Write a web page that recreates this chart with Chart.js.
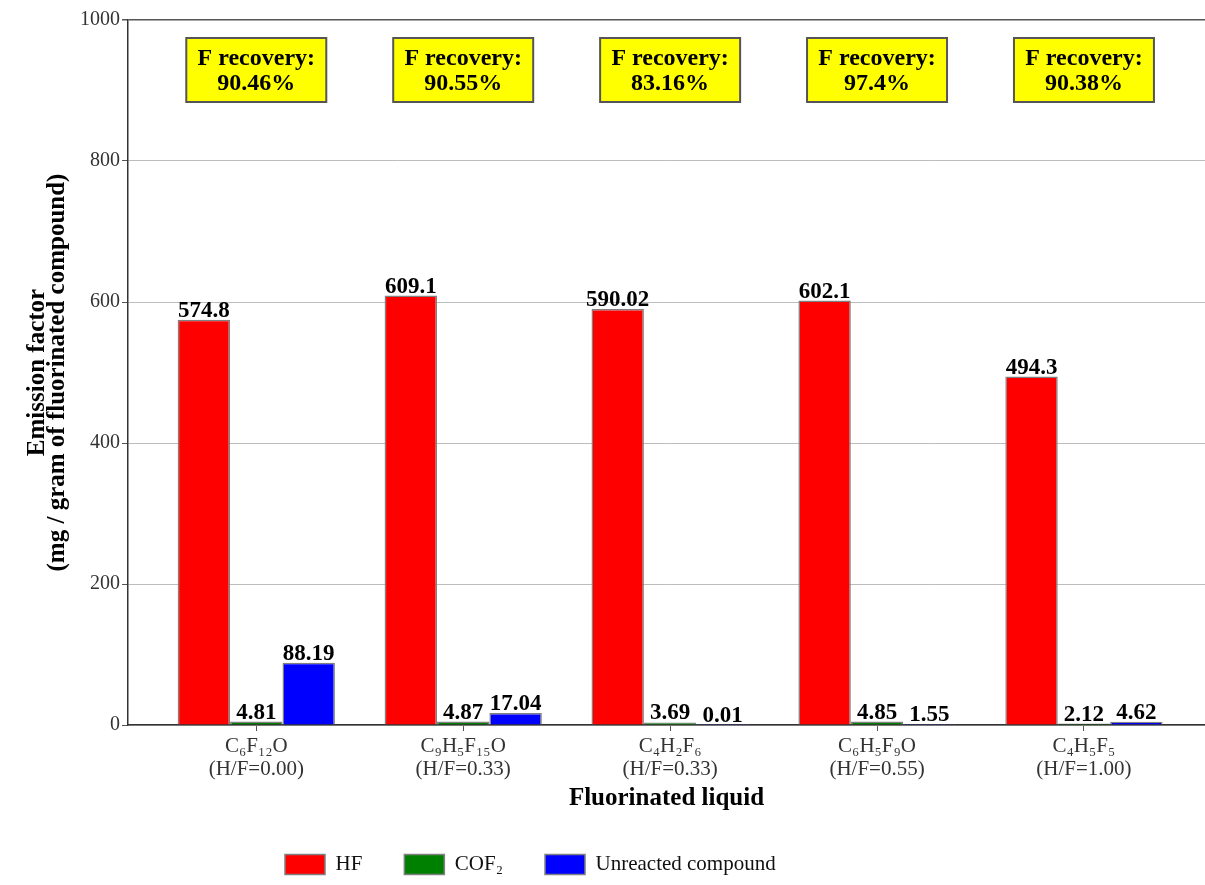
<!DOCTYPE html>
<html>
<head>
<meta charset="utf-8">
<script src="https://cdn.jsdelivr.net/npm/chart.js@4/dist/chart.umd.min.js"></script>
<style>
  body { margin: 0; background: #fff; overflow: hidden; }
  #wrap { width: 1205px; height: 885px; }
</style>
</head>
<body>
<div id="wrap"><canvas id="chart"></canvas></div>
<script>
const formulas = ["C₆F₁₂O", "C₉H₅F₁₅O", "C₄H₂F₆", "C₆H₅F₉O", "C₄H₅F₅"];
const ratios = ["(H/F=0.00)", "(H/F=0.33)", "(H/F=0.33)", "(H/F=0.55)", "(H/F=1.00)"];
const hfValues = [574.8, 609.1, 590.02, 602.1, 494.3];
const cof2Values = [4.81, 4.87, 3.69, 4.85, 2.12];
const unreactedValues = [88.19, 17.04, 0.01, 1.55, 4.62];
const recovery = [90.46, 90.55, 83.16, 97.4, 90.38];
const yTicks = [0, 200, 400, 600, 800, 1000];

const serif = "'Liberation Serif', 'Times New Roman', serif";

function toPoints(values) {
  return values.map((v, i) => ({ x: i, y: v }));
}

const valueLabels = {
  id: "valueLabels",
  afterDatasetsDraw(chart) {
    const ctx = chart.ctx;
    ctx.save();
    ctx.font = "bold 23px " + serif;
    ctx.fillStyle = "#000";
    ctx.textAlign = "center";
    ctx.textBaseline = "alphabetic";
    chart.data.datasets.forEach((ds, i) => {
      chart.getDatasetMeta(i).data.forEach((bar, j) => {
        ctx.fillText(String(ds.data[j].y), bar.x, bar.y - 3);
      });
    });
    ctx.restore();
  }
};

const recoveryBoxes = {
  id: "recoveryBoxes",
  afterDraw(chart) {
    const ctx = chart.ctx;
    const x = chart.scales.x;
    ctx.save();
    recovery.forEach((r, i) => {
      const cx = x.getPixelForValue(i);
      ctx.fillStyle = "#ffff00";
      ctx.fillRect(cx - 70, 38, 140, 64);
      ctx.strokeStyle = "#555";
      ctx.lineWidth = 2;
      ctx.strokeRect(cx - 70, 38, 140, 64);
      ctx.fillStyle = "#000";
      ctx.font = "bold 24px " + serif;
      ctx.textAlign = "center";
      ctx.textBaseline = "middle";
      ctx.fillText("F recovery:", cx, 59);
      ctx.fillText(r + "%", cx, 84);
    });
    ctx.restore();
  }
};

const legendPlace = {
  id: "legendPlace",
  afterLayout(chart) {
    const lg = chart.legend;
    const pad = lg.options.labels.padding;
    const w = lg.right - lg.left;
    lg.left = 285 - pad;
    lg.right = lg.left + w;
    const h = lg.bottom - lg.top;
    lg.top = 866 - pad - 12;
    lg.bottom = lg.top + h;
  }
};

new Chart(document.getElementById("chart"), {
  type: "bar",
  data: {
    datasets: [
      {
        label: "HF",
        data: toPoints(hfValues),
        backgroundColor: "#ff0000",
        borderColor: "#808080",
        borderWidth: 1.5
      },
      {
        label: "COF₂",
        data: toPoints(cof2Values),
        backgroundColor: "#008000",
        borderColor: "#808080",
        borderWidth: 1.5
      },
      {
        label: "Unreacted compound",
        data: toPoints(unreactedValues),
        backgroundColor: "#0000ff",
        borderColor: "#808080",
        borderWidth: 1.5
      }
    ]
  },
  options: {
    responsive: true,
    maintainAspectRatio: false,
    animation: false,
    layout: { padding: { top: 20, left: 0, right: 0, bottom: 0 } },
    datasets: {
      bar: { categoryPercentage: 0.76, barPercentage: 1.0 }
    },
    scales: {
      x: {
        type: "linear",
        offset: false,
        min: -0.62,
        max: 4.585,
        afterFit: (scale) => { scale.height = 87; },
        afterBuildTicks: (scale) => {
          scale.ticks = formulas.map((f, i) => ({ value: i }));
        },
        ticks: {
          autoSkip: false,
          maxRotation: 0,
          padding: 4,
          color: "#333",
          font: { family: serif, size: 21, lineHeight: 1.1 },
          callback: (v) => Number.isInteger(v) ? [formulas[v], ratios[v]] : ""
        },
        grid: {
          offset: false,
          drawOnChartArea: false,
          tickLength: 6,
          tickColor: "#555"
        },
        border: { color: "#333", width: 1.5 },
        title: {
          display: true,
          text: "Fluorinated liquid",
          color: "#000",
          padding: { top: 0, bottom: 0 },
          font: { family: serif, size: 25, weight: "bold", lineHeight: 1.08 }
        }
      },
      y: {
        min: 0,
        max: 1000,
        afterFit: (scale) => { scale.width = 128; },
        afterBuildTicks: (scale) => {
          scale.ticks = yTicks.map(v => ({ value: v }));
        },
        ticks: {
          padding: 2,
          color: "#333",
          font: { family: serif, size: 20 },
          callback: (v) => String(v)
        },
        grid: {
          color: (c) => c.tick && c.tick.value === 1000 ? "#555" : "#bdbdbd",
          lineWidth: (c) => c.tick && c.tick.value === 1000 ? 1.5 : 1,
          tickLength: 6,
          tickColor: "#555"
        },
        border: { color: "#333", width: 1.5 },
        title: {
          display: true,
          text: ["Emission factor", "(mg / gram of fluorinated compound)"],
          color: "#000",
          padding: { top: 28, bottom: 0 },
          font: { family: serif, size: 25, weight: "bold", lineHeight: 0.78 }
        }
      }
    },
    plugins: {
      legend: {
        position: "bottom",
        align: "start",
        labels: {
          boxWidth: 40,
          boxHeight: 20,
          padding: 42,
          color: "#111",
          font: { family: serif, size: 21 }
        }
      },
      tooltip: { enabled: false }
    }
  },
  plugins: [valueLabels, recoveryBoxes, legendPlace]
});
</script>
</body>
</html>
